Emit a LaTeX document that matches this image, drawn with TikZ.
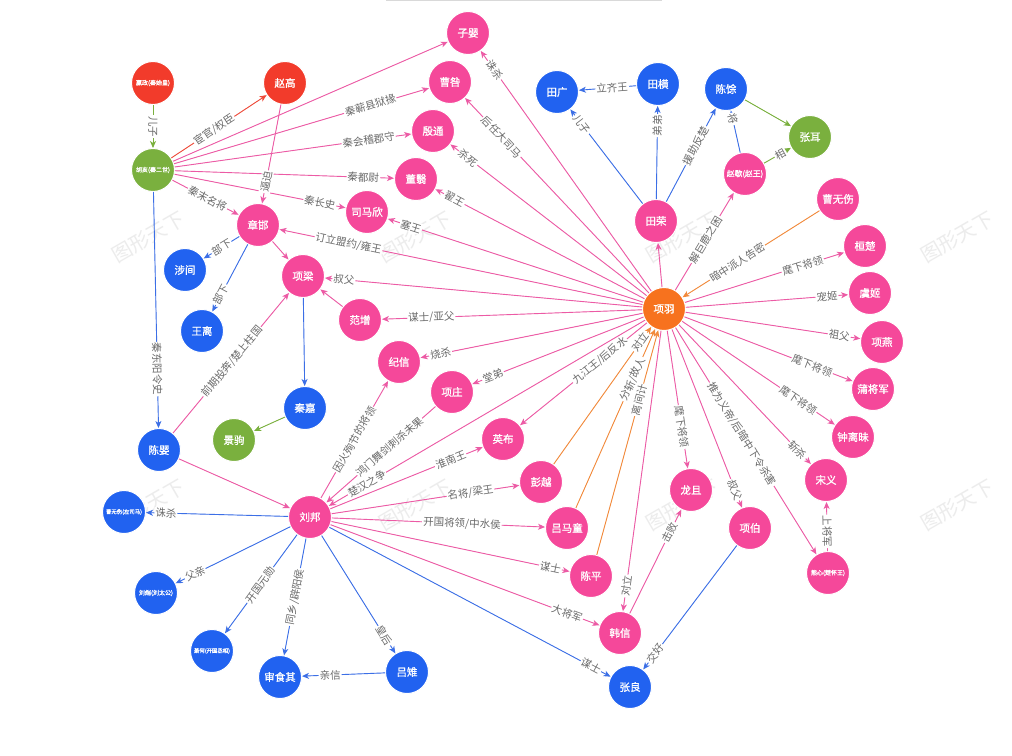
\documentclass[tikz,border=0pt]{standalone}
\usepackage{fontspec}
\setmainfont{Noto Sans CJK SC}
\newfontfamily\ndfont{Noto Sans CJK SC}[FakeBold=1.2]
\usetikzlibrary{arrows.meta}
\definecolor{cpink}{HTML}{F5489A}
\definecolor{cblue}{HTML}{2162F0}
\definecolor{cgreen}{HTML}{7AB03E}
\definecolor{cred}{HTML}{F23B2B}
\definecolor{corange}{HTML}{F7721E}
\definecolor{epink}{HTML}{EC5BA5}
\definecolor{eblue}{HTML}{3C6FE6}
\definecolor{egreen}{HTML}{7AB03E}
\definecolor{ered}{HTML}{EE4A3A}
\definecolor{eorange}{HTML}{F28A3C}
\definecolor{labgray}{HTML}{6A6A6A}
\definecolor{wmgray}{HTML}{ECECEC}
\tikzset{
  x=1pt, y=-1pt,
  nd/.style={circle, minimum size=43pt, inner sep=0pt, draw=white, line width=1pt, text=white, font=\ndfont\fontsize{10.5}{11}\selectfont},
  pk/.style={nd, fill=cpink},
  bl/.style={nd, fill=cblue},
  gr/.style={nd, fill=cgreen},
  rd/.style={nd, fill=cred},
  og/.style={nd, fill=corange},
  tinyt/.style={font=\ndfont\fontsize{6}{6}\selectfont},
  tinier/.style={font=\ndfont\fontsize{5.4}{5.4}\selectfont},
  smallt/.style={font=\ndfont\fontsize{7.8}{8}\selectfont},
  edgebase/.style={line width=0.9pt, -{Stealth[length=7pt,width=6pt,inset=2pt]}},
  ep/.style={edgebase, draw=epink, fill=epink},
  eb/.style={edgebase, draw=eblue, fill=eblue},
  eg/.style={edgebase, draw=egreen, fill=egreen},
  er/.style={edgebase, draw=ered, fill=ered},
  eo/.style={edgebase, draw=eorange, fill=eorange},
  lab/.style={sloped, fill=white, text=labgray, inner sep=1pt, font=\fontsize{10.5}{11}\selectfont},
  wm/.style={text=wmgray, rotate=30, font=\fontsize{20}{20}\selectfont}
}
\begin{document}
\begin{tikzpicture}
\useasboundingbox[fill=white] (0,0) rectangle (1012,755);
% watermark
\foreach \wx in {148,415,682,957}{
  \node[wm] (wma\wx) at (\wx,237) {图形天下};
  \node[wm] (wmb\wx) at (\wx,505) {图形天下};
}
\draw[gray!30, line width=0.6pt] (386,0.6) -- (662,0.6);

% nodes
\node[rd,tinyt] (yingzheng) at (153,83) {嬴政(秦始皇)};
\node[rd] (zhaogao) at (285,83) {赵高};
\node[gr,tinyt] (huhai) at (153,170) {胡亥(秦二世)};
\node[pk] (ziying) at (468,33) {子婴};
\node[pk] (caojiu) at (450,82) {曹咎};
\node[pk] (yintong) at (433,131) {殷通};
\node[pk] (dongyi) at (416,179) {董翳};
\node[pk] (simaxin) at (367,212) {司马欣};
\node[pk] (zhanghan) at (258,225) {章邯};
\node[bl] (shejian) at (185,270) {涉间};
\node[bl] (wangli) at (202,331) {王离};
\node[pk] (xiangliang) at (303,276) {项梁};
\node[pk] (fanzeng) at (360,320) {范增};
\node[pk] (jixin) at (399,362) {纪信};
\node[pk] (xiangzhuang) at (452,392) {项庄};
\node[pk] (yingbu) at (503,439) {英布};
\node[pk] (pengyue) at (541,482) {彭越};
\node[pk] (lvmatong) at (567,528) {吕马童};
\node[pk] (chenping) at (591,576) {陈平};
\node[pk] (hanxin) at (620,633) {韩信};
\node[bl] (zhangliang) at (630,687) {张良};
\node[pk] (longju) at (691,490) {龙且};
\node[pk] (xiangbo) at (750,528) {项伯};
\node[pk,tinyt] (xiongxin) at (828,573) {熊心(楚怀王)};
\node[pk] (songyi) at (826,480) {宋义};
\node[pk] (zhonglimo) at (853,437) {钟离昧};
\node[pk] (pujiangjun) at (873,389) {蒲将军};
\node[pk] (xiangyan) at (882,342) {项燕};
\node[pk] (yuji) at (870,293) {虞姬};
\node[pk] (huanchu) at (865,246) {桓楚};
\node[pk] (caowushang) at (838,199) {曹无伤};
\node[gr] (zhanger) at (810,137) {张耳};
\node[bl] (chenyu) at (726,89) {陈馀};
\node[pk,smallt] (zhaoxie) at (745,174) {赵歇(赵王)};
\node[bl] (tianheng) at (658,84) {田横};
\node[bl] (tianguang) at (557,92) {田广};
\node[pk] (tianrong) at (656,221) {田荣};
\node[og] (xiangyu) at (664,309) {项羽};
\node[bl] (qinjia) at (305,408) {秦嘉};
\node[gr] (jingju) at (234,440) {景驹};
\node[bl] (chenying) at (159,450) {陈婴};
\node[pk] (liubang) at (310,517) {刘邦};
\node[bl,tinier] (caozuo) at (124,512) {曹无伤(左司马)};
\node[bl,tinyt] (liutuan) at (156,593) {刘煓(刘太公)};
\node[bl,tinier] (xiaohe) at (212,651) {萧何(开国丞相)};
\node[bl] (shenyiji) at (280,677) {审食其};
\node[bl] (lvzhi) at (407,672) {吕雉};

% Qin side
\draw[eg] (yingzheng) -- node[lab,pos=.5]{儿子} (huhai);
\draw[er] (huhai) -- node[lab,pos=.45]{宦官/权臣} (zhaogao);
\draw[ep] (huhai) -- (ziying);
\draw[ep] (huhai) -- node[lab,pos=.77]{秦蕲县狱掾} (caojiu);
\draw[ep] (huhai) -- node[lab,pos=.82]{秦会稽郡守} (yintong);
\draw[ep] (huhai) -- node[lab,pos=.86]{秦都尉} (dongyi);
\draw[ep] (huhai) -- node[lab,pos=.85]{秦长史} (simaxin);
\draw[ep] (huhai) -- node[lab,pos=.53]{秦末名将} (zhanghan);
\draw[eb] (huhai) -- node[lab,pos=.75]{秦东阳令史} (chenying);
\draw[ep] (zhaogao) -- node[lab,pos=.78]{逼迫} (zhanghan);
\draw[eb] (zhanghan) -- node[lab,pos=.5]{部下} (shejian);
\draw[eb] (zhanghan) -- node[lab,pos=.75]{部下} (wangli);
\draw[ep] (zhanghan) -- (xiangliang);
\draw[eb] (xiangliang) -- (qinjia);
\draw[eg] (qinjia) -- (jingju);
\draw[ep] (chenying) -- node[lab,pos=.51]{前期投奔/楚上柱国} (xiangliang);
\draw[ep] (chenying) -- (liubang);
\draw[ep] (fanzeng) -- (xiangliang);

% Xiang Yu
\draw[ep] (xiangyu) -- node[lab,pos=.92]{诛杀} (ziying);
\draw[ep] (xiangyu) -- node[lab,pos=.8]{后任大司马} (caojiu);
\draw[ep] (xiangyu) -- node[lab,pos=.91]{杀死} (yintong);
\draw[ep] (xiangyu) -- node[lab,pos=.91]{翟王} (dongyi);
\draw[ep] (xiangyu) -- node[lab,pos=.91]{塞王} (simaxin);
\draw[ep] (xiangyu) -- node[lab,pos=.81]{订立盟约/雍王} (zhanghan);
\draw[ep] (xiangyu) -- node[lab,pos=.94]{叔父} (xiangliang);
\draw[ep] (xiangyu) -- node[lab,pos=.81]{谋士/亚父} (fanzeng);
\draw[ep] (xiangyu) -- node[lab,pos=.91]{烧杀} (jixin);
\draw[ep] (xiangyu) -- node[lab,pos=.88]{堂弟} (xiangzhuang);
\draw[ep] (xiangyu) -- node[lab,pos=.37]{九江王/后反水} (yingbu);
\draw[ep] (xiangyu) -- node[lab,pos=.88]{楚汉之争} (liubang);
\draw[ep] (xiangyu) -- node[lab,pos=.91]{对立} (hanxin);
\draw[ep] (xiangyu) -- node[lab,pos=.7]{麾下将领} (longju);
\draw[ep] (xiangyu) -- node[lab,pos=.9]{叔父} (xiangbo);
\draw[ep] (xiangyu) -- node[lab,pos=.47]{推为义帝/后暗中下令杀害} (xiongxin);
\draw[ep] (xiangyu) -- node[lab,pos=.9]{斩杀} (songyi);
\draw[ep] (xiangyu) -- node[lab,pos=.76]{麾下将领} (zhonglimo);
\draw[ep] (xiangyu) -- node[lab,pos=.76]{麾下将领} (pujiangjun);
\draw[ep] (xiangyu) -- node[lab,pos=.88]{祖父} (xiangyan);
\draw[ep] (xiangyu) -- node[lab,pos=.87]{宠姬} (yuji);
\draw[ep] (xiangyu) -- node[lab,pos=.74]{麾下将领} (huanchu);
\draw[eo] (caowushang) -- node[lab,pos=.6]{暗中派人告密} (xiangyu);
\draw[ep] (xiangyu) -- node[lab,pos=.52]{解巨鹿之困} (zhaoxie);
\draw[ep] (xiangyu) -- (tianrong);
\draw[eo] (pengyue) -- node[lab,pos=.89]{对立} (xiangyu);
\draw[eo] (lvmatong) -- node[lab,pos=.72]{分斩/故人} (xiangyu);
\draw[eo] (chenping) -- node[lab,pos=.69]{离间计} (xiangyu);

% Qi / Zhao
\draw[eb] (tianrong) -- node[lab,pos=.84]{儿子} (tianguang);
\draw[eb] (tianrong) -- node[lab,pos=.79]{弟弟} (tianheng);
\draw[eb] (tianrong) -- node[lab,pos=.6]{援助反楚} (chenyu);
\draw[eb] (tianheng) -- node[lab,pos=.42]{立齐王} (tianguang);
\draw[eb] (zhaoxie) -- node[lab,pos=.8]{将} (chenyu);
\draw[eg] (zhaoxie) -- node[lab,pos=.6]{相} (zhanger);
\draw[eg] (chenyu) -- (zhanger);
\draw[ep] (xiongxin) -- node[lab,pos=.4]{上将军} (songyi);
\draw[ep] (hanxin) -- node[lab,pos=.78]{击败} (longju);
\draw[eb] (xiangbo) -- node[lab,pos=.87]{交好} (zhangliang);

% Liu Bang
\draw[ep] (xiangzhuang) -- node[lab,pos=.42]{鸿门舞剑刺杀未果} (liubang);
\draw[ep] (liubang) -- node[lab,pos=.5]{因火殉节的将领} (jixin);
\draw[ep] (liubang) -- node[lab,pos=.79]{淮南王} (yingbu);
\draw[ep] (liubang) -- node[lab,pos=.74]{名将/梁王} (pengyue);
\draw[ep] (liubang) -- node[lab,pos=.61]{开国将领/中水侯} (lvmatong);
\draw[ep] (liubang) -- node[lab,pos=.92]{谋士} (chenping);
\draw[ep] (liubang) -- node[lab,pos=.88]{大将军} (hanxin);
\draw[eb] (liubang) -- node[lab,pos=.93]{谋士} (zhangliang);
\draw[eb] (liubang) -- node[lab,pos=.85]{皇后} (lvzhi);
\draw[eb] (lvzhi) -- node[lab,pos=.66]{亲信} (shenyiji);
\draw[eb] (liubang) -- node[lab,pos=.5]{同乡/辟阳侯} (shenyiji);
\draw[eb] (liubang) -- node[lab,pos=.51]{开国元勋} (xiaohe);
\draw[eb] (liubang) -- node[lab,pos=.83]{父亲} (liutuan);
\draw[eb] (liubang) -- node[lab,pos=.86]{诛杀} (caozuo);
\end{tikzpicture}
\end{document}
